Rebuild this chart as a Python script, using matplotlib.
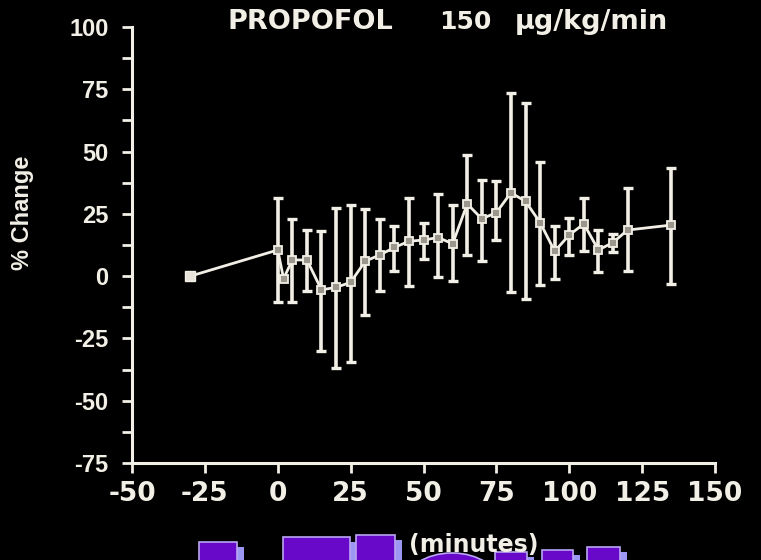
import numpy as np
import matplotlib
matplotlib.use("Agg")
import matplotlib.pyplot as plt
from matplotlib.patches import Rectangle, Ellipse

# ---- data ----
baseline_time = [-30]
baseline_value = [0]
time = [0, 2, 5, 10, 15, 20, 25, 30, 35, 40, 45, 50, 55, 60, 65, 70, 75,
        80, 85, 90, 95, 100, 105, 110, 115, 120, 135]
mean = [10.5, -1, 6.5, 6.5, -5.5, -4.5, -2.5, 6, 8.5, 11.5, 14, 14.5, 15.5,
        13, 29, 23, 25.5, 33.5, 30, 21.5, 10, 16.5, 21, 10.5, 13.5, 18.5, 20.5]
upper = [31.5, np.nan, 23, 18.5, 18, 27.5, 28.5, 27, 23, 20, 31.5, 21.5, 33,
         28.5, 48.5, 38.5, 38, 73.5, 69.5, 46, 20, 23.5, 31.5, 18.5, 17, 35.5, 43.5]
lower = [-10.5, np.nan, -10.5, -6, -30, -37, -34.5, -15.5, -6, 2, -4, 7, -0.5,
         -2, 8.5, 6, 14.5, -6.5, -9, -3.5, -1, 8.5, 10, 1.5, 9.5, 2, -3]
xticks = [-50, -25, 0, 25, 50, 75, 100, 125, 150]
yticks = [-75, -50, -25, 0, 25, 50, 75, 100]

FG = '#f2efe6'
LIB = ['Liberation Sans', 'DejaVu Sans']
DJV = ['DejaVu Sans']
plt.rcParams['font.family'] = LIB
plt.rcParams['axes.unicode_minus'] = False

W, H = 761, 560
fig = plt.figure(figsize=(W / 100, H / 100), dpi=100, facecolor='black')
ax = fig.add_axes([132 / W, 97 / H, (715 - 132) / W, (463 - 27) / H])
ax.set_facecolor('black')

mean_a = np.array(mean)
yerr = np.vstack([mean_a - np.array(lower), np.array(upper) - mean_a])

ax.plot(baseline_time + time, baseline_value + mean, color=FG, lw=2, zorder=3)
ax.errorbar(time, mean, yerr=yerr, fmt='none', ecolor=FG, elinewidth=2.6,
            capsize=3.8, capthick=2.4, zorder=2)
ax.plot(time, mean, 's', ms=5.5, mfc='#9a968c', mec=FG, mew=1.3, zorder=4)
ax.plot(baseline_time, baseline_value, 's', ms=7.5, mfc='#e8e4dc', mec=FG,
        mew=1, zorder=4)

ax.set_xlim(-50, 150)
ax.set_ylim(-75, 100)
ax.set_xticks(xticks)
ax.set_yticks(yticks)
ax.set_yticks(np.arange(-75, 100.1, 12.5), minor=True)
for s in ['top', 'right']:
    ax.spines[s].set_visible(False)
for s in ['left', 'bottom']:
    ax.spines[s].set_color(FG)
    ax.spines[s].set_linewidth(2.2)
ax.tick_params(axis='both', which='both', colors=FG, width=2, length=7,
               direction='out')
ax.tick_params(axis='x', pad=6)
ax.tick_params(axis='y', pad=10)
ax.set_xticklabels([str(v) for v in xticks], fontsize=19, fontweight='bold',
                   family=DJV, color=FG)
ax.set_yticklabels([str(v) for v in yticks], fontsize=17, fontweight='bold',
                   family=LIB, color=FG)

# title in three pieces
ty = 1 - 22 / H
fig.text(227 / W, ty, 'PROPOFOL', ha='left', va='center', fontsize=19.5,
         fontweight='bold', color=FG, family=DJV)
fig.text(439 / W, ty, '150', ha='left', va='center', fontsize=18,
         fontweight='bold', color=FG, family=DJV)
fig.text(515 / W, ty, '\u00b5g/kg/min', ha='left', va='center', fontsize=19.5,
         fontweight='bold', color=FG, family=DJV)
fig.text(23 / W, 1 - 213 / H, '% Change', rotation=90, ha='center',
         va='center', fontsize=17, fontweight='bold', color=FG, family=LIB)

# purple blocky shapes at bottom
PURPLE = '#6808c8'
SHADOW = '#9d97f4'
EDGE = '#b9a6f2'
def fx(x):
    return x / W
def fy(y):
    return 1 - y / H
blocks = [(199, 237, 542), (283, 350, 537), (356, 395, 535),
          (495, 527, 552), (542, 573, 550), (587, 620, 547)]
for x0, x1, top in blocks:
    fig.patches.append(Rectangle((fx(x1 - 2), fy(H + 2)), fx(9), fy(top + 5) - fy(H + 2),
                                 transform=fig.transFigure, facecolor=SHADOW,
                                 edgecolor='none', zorder=1))
    fig.patches.append(Rectangle((fx(x0), fy(H + 2)), fx(x1 - x0), fy(top) - fy(H + 2),
                                 transform=fig.transFigure, facecolor=PURPLE,
                                 edgecolor=EDGE, lw=1.2, zorder=2))
fig.patches.append(Ellipse((fx(452), fy(585)), fx(96), fy(553) - fy(617),
                           transform=fig.transFigure, facecolor=PURPLE,
                           edgecolor=EDGE, lw=1.2, zorder=2))

fig.text(474 / W, 1 - 545 / H, '(minutes)', ha='center', va='center',
         fontsize=17, fontweight='bold', color=FG, family=DJV, zorder=5)

fig.savefig('out.png', dpi=100, facecolor='black')
